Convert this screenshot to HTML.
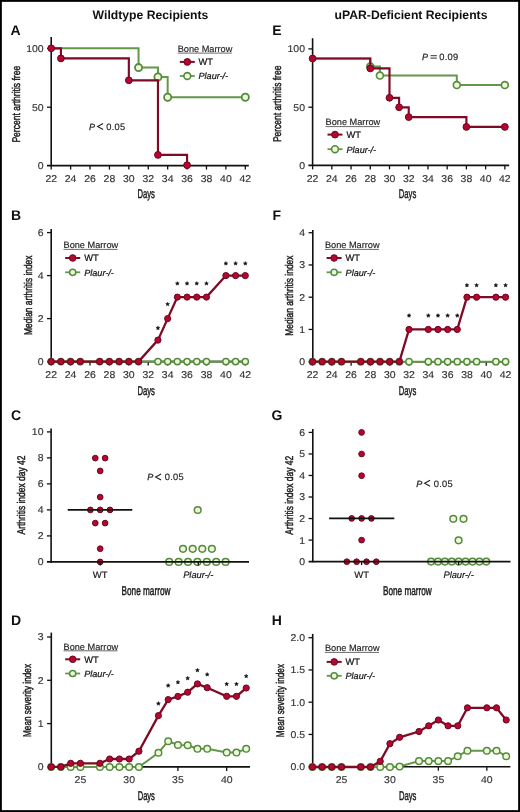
<!DOCTYPE html>
<html><head><meta charset="utf-8"><title>Figure</title>
<style>html,body{margin:0;padding:0;background:#fff;font-family:"Liberation Sans",sans-serif;}svg{display:block;will-change:transform;}</style>
</head><body>
<svg width="520" height="812" viewBox="0 0 520 812" font-family="&quot;Liberation Sans&quot;, sans-serif" text-rendering="geometricPrecision">
<rect x="0" y="0" width="520" height="812" fill="#fff"/>
<text x="92.6" y="18.9" font-size="12.2" font-weight="bold" fill="#111">Wildtype Recipients</text>
<text x="334.6" y="18.9" font-size="12.2" font-weight="bold" fill="#111">uPAR-Deficient Recipients</text>
<text x="10.4" y="34.8" font-size="14" font-weight="bold" fill="#111">A</text>
<text x="272.2" y="34.8" font-size="14" font-weight="bold" fill="#111">E</text>
<text x="11" y="220.4" font-size="14" font-weight="bold" fill="#111">B</text>
<text x="272.6" y="220.4" font-size="14" font-weight="bold" fill="#111">F</text>
<text x="11" y="419.6" font-size="14" font-weight="bold" fill="#111">C</text>
<text x="271.6" y="420" font-size="14" font-weight="bold" fill="#111">G</text>
<text x="11" y="624.9" font-size="14" font-weight="bold" fill="#111">D</text>
<text x="271.8" y="624.9" font-size="14" font-weight="bold" fill="#111">H</text>
<line x1="51.2" y1="36.9" x2="51.2" y2="166.35" stroke="#111" stroke-width="1.6" />
<line x1="47" y1="165.6" x2="248.8" y2="165.6" stroke="#111" stroke-width="1.6" />
<text transform="translate(43.6,169.06) scale(1.06,1)" font-size="9.9" text-anchor="end" fill="#333" stroke="#333" stroke-width="0.15">0</text>
<line x1="47" y1="107.2" x2="51.2" y2="107.2" stroke="#111" stroke-width="1.3" />
<text transform="translate(43.6,110.66) scale(1.06,1)" font-size="9.9" text-anchor="end" fill="#333" stroke="#333" stroke-width="0.15">50</text>
<line x1="47" y1="48.5" x2="51.2" y2="48.5" stroke="#111" stroke-width="1.3" />
<text transform="translate(43.6,51.96) scale(1.06,1)" font-size="9.9" text-anchor="end" fill="#333" stroke="#333" stroke-width="0.15">100</text>
<line x1="51.2" y1="165.6" x2="51.2" y2="169.6" stroke="#111" stroke-width="1.3" />
<text transform="translate(51.2,182) scale(1.06,1)" font-size="9.9" text-anchor="middle" fill="#333" stroke="#333" stroke-width="0.15">22</text>
<line x1="70.61" y1="165.6" x2="70.61" y2="169.6" stroke="#111" stroke-width="1.3" />
<text transform="translate(70.61,182) scale(1.06,1)" font-size="9.9" text-anchor="middle" fill="#333" stroke="#333" stroke-width="0.15">24</text>
<line x1="90.02" y1="165.6" x2="90.02" y2="169.6" stroke="#111" stroke-width="1.3" />
<text transform="translate(90.02,182) scale(1.06,1)" font-size="9.9" text-anchor="middle" fill="#333" stroke="#333" stroke-width="0.15">26</text>
<line x1="109.43" y1="165.6" x2="109.43" y2="169.6" stroke="#111" stroke-width="1.3" />
<text transform="translate(109.43,182) scale(1.06,1)" font-size="9.9" text-anchor="middle" fill="#333" stroke="#333" stroke-width="0.15">28</text>
<line x1="128.84" y1="165.6" x2="128.84" y2="169.6" stroke="#111" stroke-width="1.3" />
<text transform="translate(128.84,182) scale(1.06,1)" font-size="9.9" text-anchor="middle" fill="#333" stroke="#333" stroke-width="0.15">30</text>
<line x1="148.25" y1="165.6" x2="148.25" y2="169.6" stroke="#111" stroke-width="1.3" />
<text transform="translate(148.25,182) scale(1.06,1)" font-size="9.9" text-anchor="middle" fill="#333" stroke="#333" stroke-width="0.15">32</text>
<line x1="167.66" y1="165.6" x2="167.66" y2="169.6" stroke="#111" stroke-width="1.3" />
<text transform="translate(167.66,182) scale(1.06,1)" font-size="9.9" text-anchor="middle" fill="#333" stroke="#333" stroke-width="0.15">34</text>
<line x1="187.07" y1="165.6" x2="187.07" y2="169.6" stroke="#111" stroke-width="1.3" />
<text transform="translate(187.07,182) scale(1.06,1)" font-size="9.9" text-anchor="middle" fill="#333" stroke="#333" stroke-width="0.15">36</text>
<line x1="206.48" y1="165.6" x2="206.48" y2="169.6" stroke="#111" stroke-width="1.3" />
<text transform="translate(206.48,182) scale(1.06,1)" font-size="9.9" text-anchor="middle" fill="#333" stroke="#333" stroke-width="0.15">38</text>
<line x1="225.89" y1="165.6" x2="225.89" y2="169.6" stroke="#111" stroke-width="1.3" />
<text transform="translate(225.89,182) scale(1.06,1)" font-size="9.9" text-anchor="middle" fill="#333" stroke="#333" stroke-width="0.15">40</text>
<line x1="245.3" y1="165.6" x2="245.3" y2="169.6" stroke="#111" stroke-width="1.3" />
<text transform="translate(245.3,182) scale(1.06,1)" font-size="9.9" text-anchor="middle" fill="#333" stroke="#333" stroke-width="0.15">42</text>
<polyline points="51.2,48.3 138.55,48.3 138.55,67.6 157.96,67.6 157.96,77 167.66,77 167.66,97.2 245.3,97.2 245.3,97.2" fill="none" stroke="#62984a" stroke-width="2.0" stroke-linejoin="miter" stroke-linecap="butt"/>
<circle cx="138.55" cy="67.6" r="3.6" fill="#eef8d8" stroke="#548a3e" stroke-width="1.8"/>
<circle cx="157.96" cy="77" r="3.6" fill="#eef8d8" stroke="#548a3e" stroke-width="1.8"/>
<circle cx="167.66" cy="97.2" r="3.6" fill="#eef8d8" stroke="#548a3e" stroke-width="1.8"/>
<circle cx="245.3" cy="97.2" r="3.6" fill="#eef8d8" stroke="#548a3e" stroke-width="1.8"/>
<polyline points="51.2,48.3 60.91,48.3 60.91,58.4 128.84,58.4 128.84,80.3 157.96,80.3 157.96,154.9 187.07,154.9 187.07,165.2" fill="none" stroke="#7e0a25" stroke-width="2.15" stroke-linejoin="miter" stroke-linecap="butt"/>
<circle cx="51.2" cy="48.3" r="3.4" fill="#b2072f" stroke="#700520" stroke-width="1.0"/>
<circle cx="60.91" cy="58.4" r="3.4" fill="#b2072f" stroke="#700520" stroke-width="1.0"/>
<circle cx="128.84" cy="80.3" r="3.4" fill="#b2072f" stroke="#700520" stroke-width="1.0"/>
<circle cx="157.96" cy="154.9" r="3.4" fill="#b2072f" stroke="#700520" stroke-width="1.0"/>
<circle cx="187.07" cy="165.2" r="3.4" fill="#b2072f" stroke="#700520" stroke-width="1.0"/>
<text transform="translate(19.5,142.6) rotate(-90)" x="0" y="0" font-size="11.2" fill="#1a1a1a" stroke="#1a1a1a" stroke-width="0.45" textLength="76.8" lengthAdjust="spacingAndGlyphs">Percent arthritis free</text>
<text x="137.4" y="198.1" font-size="12.6" fill="#1a1a1a" stroke="#1a1a1a" stroke-width="0.45" textLength="17.5" lengthAdjust="spacingAndGlyphs">Days</text>
<text x="177.7" y="51.9" font-size="9.2" text-anchor="start" fill="#222" font-weight="normal" font-style="normal" stroke="#222" stroke-width="0.15">Bone Marrow</text>
<line x1="177.7" y1="53.1" x2="231.8" y2="53.1" stroke="#444" stroke-width="0.8" />
<line x1="179.8" y1="61.9" x2="194.8" y2="61.9" stroke="#7e0a25" stroke-width="2.0" />
<circle cx="187.3" cy="61.9" r="3.4" fill="#b2072f" stroke="#700520" stroke-width="1.0"/>
<text x="198.5" y="65.2" font-size="9.3" text-anchor="start" fill="#111" font-weight="normal" font-style="normal" stroke="#111" stroke-width="0.2">WT</text>
<line x1="179.8" y1="76" x2="194.8" y2="76" stroke="#62984a" stroke-width="1.8" />
<circle cx="187.3" cy="76" r="3.4" fill="#eef8d8" stroke="#548a3e" stroke-width="1.6"/>
<text x="198.5" y="79.3" font-size="9.1" text-anchor="start" fill="#111" font-weight="normal" font-style="italic" stroke="#111" stroke-width="0.2">Plaur-/-</text>
<text x="88.92" y="129.6" font-size="9" font-style="italic" fill="#222" stroke="#222" stroke-width="0.25">P</text>
<polyline points="103.1,123.4 97.6,126.4 103.1,129.4" fill="none" stroke="#222" stroke-width="1.1" stroke-linejoin="miter"/>
<text x="106.24" y="129.6" font-size="9.3" fill="#222" stroke="#222" stroke-width="0.15" letter-spacing="0.3">0.05</text>
<line x1="312.6" y1="38.2" x2="312.6" y2="166.15" stroke="#111" stroke-width="1.6" />
<line x1="308.4" y1="165.4" x2="509.2" y2="165.4" stroke="#111" stroke-width="1.6" />
<text transform="translate(305,168.86) scale(1.06,1)" font-size="9.9" text-anchor="end" fill="#333" stroke="#333" stroke-width="0.15">0</text>
<line x1="308.4" y1="107.2" x2="312.6" y2="107.2" stroke="#111" stroke-width="1.3" />
<text transform="translate(305,110.66) scale(1.06,1)" font-size="9.9" text-anchor="end" fill="#333" stroke="#333" stroke-width="0.15">50</text>
<line x1="308.4" y1="48.9" x2="312.6" y2="48.9" stroke="#111" stroke-width="1.3" />
<text transform="translate(305,52.36) scale(1.06,1)" font-size="9.9" text-anchor="end" fill="#333" stroke="#333" stroke-width="0.15">100</text>
<line x1="312.6" y1="165.4" x2="312.6" y2="169.4" stroke="#111" stroke-width="1.3" />
<text transform="translate(312.6,181.8) scale(1.06,1)" font-size="9.9" text-anchor="middle" fill="#333" stroke="#333" stroke-width="0.15">22</text>
<line x1="331.83" y1="165.4" x2="331.83" y2="169.4" stroke="#111" stroke-width="1.3" />
<text transform="translate(331.83,181.8) scale(1.06,1)" font-size="9.9" text-anchor="middle" fill="#333" stroke="#333" stroke-width="0.15">24</text>
<line x1="351.05" y1="165.4" x2="351.05" y2="169.4" stroke="#111" stroke-width="1.3" />
<text transform="translate(351.05,181.8) scale(1.06,1)" font-size="9.9" text-anchor="middle" fill="#333" stroke="#333" stroke-width="0.15">26</text>
<line x1="370.28" y1="165.4" x2="370.28" y2="169.4" stroke="#111" stroke-width="1.3" />
<text transform="translate(370.28,181.8) scale(1.06,1)" font-size="9.9" text-anchor="middle" fill="#333" stroke="#333" stroke-width="0.15">28</text>
<line x1="389.5" y1="165.4" x2="389.5" y2="169.4" stroke="#111" stroke-width="1.3" />
<text transform="translate(389.5,181.8) scale(1.06,1)" font-size="9.9" text-anchor="middle" fill="#333" stroke="#333" stroke-width="0.15">30</text>
<line x1="408.73" y1="165.4" x2="408.73" y2="169.4" stroke="#111" stroke-width="1.3" />
<text transform="translate(408.73,181.8) scale(1.06,1)" font-size="9.9" text-anchor="middle" fill="#333" stroke="#333" stroke-width="0.15">32</text>
<line x1="427.95" y1="165.4" x2="427.95" y2="169.4" stroke="#111" stroke-width="1.3" />
<text transform="translate(427.95,181.8) scale(1.06,1)" font-size="9.9" text-anchor="middle" fill="#333" stroke="#333" stroke-width="0.15">34</text>
<line x1="447.18" y1="165.4" x2="447.18" y2="169.4" stroke="#111" stroke-width="1.3" />
<text transform="translate(447.18,181.8) scale(1.06,1)" font-size="9.9" text-anchor="middle" fill="#333" stroke="#333" stroke-width="0.15">36</text>
<line x1="466.4" y1="165.4" x2="466.4" y2="169.4" stroke="#111" stroke-width="1.3" />
<text transform="translate(466.4,181.8) scale(1.06,1)" font-size="9.9" text-anchor="middle" fill="#333" stroke="#333" stroke-width="0.15">38</text>
<line x1="485.62" y1="165.4" x2="485.62" y2="169.4" stroke="#111" stroke-width="1.3" />
<text transform="translate(485.62,181.8) scale(1.06,1)" font-size="9.9" text-anchor="middle" fill="#333" stroke="#333" stroke-width="0.15">40</text>
<line x1="504.85" y1="165.4" x2="504.85" y2="169.4" stroke="#111" stroke-width="1.3" />
<text transform="translate(504.85,181.8) scale(1.06,1)" font-size="9.9" text-anchor="middle" fill="#333" stroke="#333" stroke-width="0.15">42</text>
<polyline points="312.6,58.5 370.28,58.5 370.28,66.6 379.89,66.6 379.89,75.6 456.79,75.6 456.79,85.1 504.85,85.1 504.85,85.1" fill="none" stroke="#62984a" stroke-width="2.0" stroke-linejoin="miter" stroke-linecap="butt"/>
<circle cx="370.28" cy="66.6" r="3.45" fill="#eef8d8" stroke="#548a3e" stroke-width="1.6"/>
<circle cx="379.89" cy="75.6" r="3.45" fill="#eef8d8" stroke="#548a3e" stroke-width="1.6"/>
<circle cx="456.79" cy="85.1" r="3.45" fill="#eef8d8" stroke="#548a3e" stroke-width="1.6"/>
<circle cx="504.85" cy="85.1" r="3.45" fill="#eef8d8" stroke="#548a3e" stroke-width="1.6"/>
<polyline points="312.6,58.5 370.28,58.5 370.28,68.4 389.5,68.4 389.5,97.8 399.11,97.8 399.11,107.3 408.73,107.3 408.73,117.1 466.4,117.1 466.4,126.9 504.85,126.9 504.85,126.9" fill="none" stroke="#7e0a25" stroke-width="2.15" stroke-linejoin="miter" stroke-linecap="butt"/>
<circle cx="312.6" cy="58.5" r="3.4" fill="#b2072f" stroke="#700520" stroke-width="1.0"/>
<circle cx="370.28" cy="68.4" r="3.4" fill="#b2072f" stroke="#700520" stroke-width="1.0"/>
<circle cx="389.5" cy="97.8" r="3.4" fill="#b2072f" stroke="#700520" stroke-width="1.0"/>
<circle cx="399.11" cy="107.3" r="3.4" fill="#b2072f" stroke="#700520" stroke-width="1.0"/>
<circle cx="408.73" cy="117.1" r="3.4" fill="#b2072f" stroke="#700520" stroke-width="1.0"/>
<circle cx="466.4" cy="126.9" r="3.4" fill="#b2072f" stroke="#700520" stroke-width="1.0"/>
<circle cx="504.85" cy="126.9" r="3.4" fill="#b2072f" stroke="#700520" stroke-width="1.0"/>
<text transform="translate(281.2,142.1) rotate(-90)" x="0" y="0" font-size="11.2" fill="#1a1a1a" stroke="#1a1a1a" stroke-width="0.45" textLength="76.5" lengthAdjust="spacingAndGlyphs">Percent arthritis free</text>
<text x="398.8" y="198.1" font-size="12.6" fill="#1a1a1a" stroke="#1a1a1a" stroke-width="0.45" textLength="17.5" lengthAdjust="spacingAndGlyphs">Days</text>
<text x="325.6" y="125.4" font-size="9.2" text-anchor="start" fill="#222" font-weight="normal" font-style="normal" stroke="#222" stroke-width="0.15">Bone Marrow</text>
<line x1="325.6" y1="126.6" x2="379.7" y2="126.6" stroke="#444" stroke-width="0.8" />
<line x1="327.5" y1="134.6" x2="342.5" y2="134.6" stroke="#7e0a25" stroke-width="2.0" />
<circle cx="335" cy="134.6" r="3.4" fill="#b2072f" stroke="#700520" stroke-width="1.0"/>
<text x="346.5" y="137.9" font-size="9.3" text-anchor="start" fill="#111" font-weight="normal" font-style="normal" stroke="#111" stroke-width="0.2">WT</text>
<line x1="327.5" y1="149.2" x2="342.5" y2="149.2" stroke="#62984a" stroke-width="1.8" />
<circle cx="335" cy="149.2" r="3.4" fill="#eef8d8" stroke="#548a3e" stroke-width="1.6"/>
<text x="346.5" y="152.5" font-size="9.1" text-anchor="start" fill="#111" font-weight="normal" font-style="italic" stroke="#111" stroke-width="0.2">Plaur-/-</text>
<text x="422.02" y="59.7" font-size="9" font-style="italic" fill="#222" stroke="#222" stroke-width="0.25">P</text>
<rect x="430.5" y="55.2" width="6.4" height="1.0" fill="#333"/>
<rect x="430.5" y="57.6" width="6.4" height="1.0" fill="#333"/>
<text x="439.24" y="59.7" font-size="9.3" fill="#222" stroke="#222" stroke-width="0.15" letter-spacing="0.3">0.09</text>
<line x1="51.2" y1="229.1" x2="51.2" y2="362.35" stroke="#111" stroke-width="1.6" />
<line x1="47" y1="361.6" x2="248.8" y2="361.6" stroke="#111" stroke-width="1.6" />
<text transform="translate(43.6,365.06) scale(1.06,1)" font-size="9.9" text-anchor="end" fill="#333" stroke="#333" stroke-width="0.15">0</text>
<line x1="47" y1="318.6" x2="51.2" y2="318.6" stroke="#111" stroke-width="1.3" />
<text transform="translate(43.6,322.06) scale(1.06,1)" font-size="9.9" text-anchor="end" fill="#333" stroke="#333" stroke-width="0.15">2</text>
<line x1="47" y1="275.6" x2="51.2" y2="275.6" stroke="#111" stroke-width="1.3" />
<text transform="translate(43.6,279.06) scale(1.06,1)" font-size="9.9" text-anchor="end" fill="#333" stroke="#333" stroke-width="0.15">4</text>
<line x1="47" y1="232.6" x2="51.2" y2="232.6" stroke="#111" stroke-width="1.3" />
<text transform="translate(43.6,236.06) scale(1.06,1)" font-size="9.9" text-anchor="end" fill="#333" stroke="#333" stroke-width="0.15">6</text>
<line x1="51.15" y1="361.6" x2="51.15" y2="365.6" stroke="#111" stroke-width="1.3" />
<text transform="translate(51.15,378) scale(1.06,1)" font-size="9.9" text-anchor="middle" fill="#333" stroke="#333" stroke-width="0.15">22</text>
<line x1="70.56" y1="361.6" x2="70.56" y2="365.6" stroke="#111" stroke-width="1.3" />
<text transform="translate(70.56,378) scale(1.06,1)" font-size="9.9" text-anchor="middle" fill="#333" stroke="#333" stroke-width="0.15">24</text>
<line x1="89.98" y1="361.6" x2="89.98" y2="365.6" stroke="#111" stroke-width="1.3" />
<text transform="translate(89.98,378) scale(1.06,1)" font-size="9.9" text-anchor="middle" fill="#333" stroke="#333" stroke-width="0.15">26</text>
<line x1="109.39" y1="361.6" x2="109.39" y2="365.6" stroke="#111" stroke-width="1.3" />
<text transform="translate(109.39,378) scale(1.06,1)" font-size="9.9" text-anchor="middle" fill="#333" stroke="#333" stroke-width="0.15">28</text>
<line x1="128.81" y1="361.6" x2="128.81" y2="365.6" stroke="#111" stroke-width="1.3" />
<text transform="translate(128.81,378) scale(1.06,1)" font-size="9.9" text-anchor="middle" fill="#333" stroke="#333" stroke-width="0.15">30</text>
<line x1="148.22" y1="361.6" x2="148.22" y2="365.6" stroke="#111" stroke-width="1.3" />
<text transform="translate(148.22,378) scale(1.06,1)" font-size="9.9" text-anchor="middle" fill="#333" stroke="#333" stroke-width="0.15">32</text>
<line x1="167.64" y1="361.6" x2="167.64" y2="365.6" stroke="#111" stroke-width="1.3" />
<text transform="translate(167.64,378) scale(1.06,1)" font-size="9.9" text-anchor="middle" fill="#333" stroke="#333" stroke-width="0.15">34</text>
<line x1="187.06" y1="361.6" x2="187.06" y2="365.6" stroke="#111" stroke-width="1.3" />
<text transform="translate(187.06,378) scale(1.06,1)" font-size="9.9" text-anchor="middle" fill="#333" stroke="#333" stroke-width="0.15">36</text>
<line x1="206.47" y1="361.6" x2="206.47" y2="365.6" stroke="#111" stroke-width="1.3" />
<text transform="translate(206.47,378) scale(1.06,1)" font-size="9.9" text-anchor="middle" fill="#333" stroke="#333" stroke-width="0.15">38</text>
<line x1="225.88" y1="361.6" x2="225.88" y2="365.6" stroke="#111" stroke-width="1.3" />
<text transform="translate(225.88,378) scale(1.06,1)" font-size="9.9" text-anchor="middle" fill="#333" stroke="#333" stroke-width="0.15">40</text>
<line x1="245.3" y1="361.6" x2="245.3" y2="365.6" stroke="#111" stroke-width="1.3" />
<text transform="translate(245.3,378) scale(1.06,1)" font-size="9.9" text-anchor="middle" fill="#333" stroke="#333" stroke-width="0.15">42</text>
<polyline points="51.15,361.6 60.86,361.6 70.56,361.6 80.27,361.6 99.69,361.6 109.39,361.6 119.1,361.6 128.81,361.6 138.52,361.6 157.93,361.6 167.64,361.6 177.35,361.6 187.06,361.6 196.76,361.6 206.47,361.6 225.88,361.6 235.59,361.6 245.3,361.6" fill="none" stroke="#62984a" stroke-width="2.0" stroke-linejoin="miter" stroke-linecap="butt"/>
<circle cx="51.15" cy="361.6" r="3.15" fill="#eef8d8" stroke="#548a3e" stroke-width="1.45"/>
<circle cx="60.86" cy="361.6" r="3.15" fill="#eef8d8" stroke="#548a3e" stroke-width="1.45"/>
<circle cx="70.56" cy="361.6" r="3.15" fill="#eef8d8" stroke="#548a3e" stroke-width="1.45"/>
<circle cx="80.27" cy="361.6" r="3.15" fill="#eef8d8" stroke="#548a3e" stroke-width="1.45"/>
<circle cx="99.69" cy="361.6" r="3.15" fill="#eef8d8" stroke="#548a3e" stroke-width="1.45"/>
<circle cx="109.39" cy="361.6" r="3.15" fill="#eef8d8" stroke="#548a3e" stroke-width="1.45"/>
<circle cx="119.1" cy="361.6" r="3.15" fill="#eef8d8" stroke="#548a3e" stroke-width="1.45"/>
<circle cx="128.81" cy="361.6" r="3.15" fill="#eef8d8" stroke="#548a3e" stroke-width="1.45"/>
<circle cx="138.52" cy="361.6" r="3.15" fill="#eef8d8" stroke="#548a3e" stroke-width="1.45"/>
<circle cx="157.93" cy="361.6" r="3.15" fill="#eef8d8" stroke="#548a3e" stroke-width="1.45"/>
<circle cx="167.64" cy="361.6" r="3.15" fill="#eef8d8" stroke="#548a3e" stroke-width="1.45"/>
<circle cx="177.35" cy="361.6" r="3.15" fill="#eef8d8" stroke="#548a3e" stroke-width="1.45"/>
<circle cx="187.06" cy="361.6" r="3.15" fill="#eef8d8" stroke="#548a3e" stroke-width="1.45"/>
<circle cx="196.76" cy="361.6" r="3.15" fill="#eef8d8" stroke="#548a3e" stroke-width="1.45"/>
<circle cx="206.47" cy="361.6" r="3.15" fill="#eef8d8" stroke="#548a3e" stroke-width="1.45"/>
<circle cx="225.88" cy="361.6" r="3.15" fill="#eef8d8" stroke="#548a3e" stroke-width="1.45"/>
<circle cx="235.59" cy="361.6" r="3.15" fill="#eef8d8" stroke="#548a3e" stroke-width="1.45"/>
<circle cx="245.3" cy="361.6" r="3.15" fill="#eef8d8" stroke="#548a3e" stroke-width="1.45"/>
<polyline points="51.15,361.6 60.86,361.6 70.56,361.6 80.27,361.6 99.69,361.6 109.39,361.6 119.1,361.6 128.81,361.6 138.52,361.6 157.93,340.1 167.64,318.6 177.35,297.1 187.06,297.1 196.76,297.1 206.47,297.1 225.88,275.6 235.59,275.6 245.3,275.6" fill="none" stroke="#7e0a25" stroke-width="2.3" stroke-linejoin="miter" stroke-linecap="butt"/>
<circle cx="51.15" cy="361.6" r="3.1" fill="#b2072f" stroke="#700520" stroke-width="1.0"/>
<circle cx="60.86" cy="361.6" r="3.1" fill="#b2072f" stroke="#700520" stroke-width="1.0"/>
<circle cx="70.56" cy="361.6" r="3.1" fill="#b2072f" stroke="#700520" stroke-width="1.0"/>
<circle cx="80.27" cy="361.6" r="3.1" fill="#b2072f" stroke="#700520" stroke-width="1.0"/>
<circle cx="99.69" cy="361.6" r="3.1" fill="#b2072f" stroke="#700520" stroke-width="1.0"/>
<circle cx="109.39" cy="361.6" r="3.1" fill="#b2072f" stroke="#700520" stroke-width="1.0"/>
<circle cx="119.1" cy="361.6" r="3.1" fill="#b2072f" stroke="#700520" stroke-width="1.0"/>
<circle cx="128.81" cy="361.6" r="3.1" fill="#b2072f" stroke="#700520" stroke-width="1.0"/>
<circle cx="138.52" cy="361.6" r="3.1" fill="#b2072f" stroke="#700520" stroke-width="1.0"/>
<circle cx="157.93" cy="340.1" r="3.1" fill="#b2072f" stroke="#700520" stroke-width="1.0"/>
<circle cx="167.64" cy="318.6" r="3.1" fill="#b2072f" stroke="#700520" stroke-width="1.0"/>
<circle cx="177.35" cy="297.1" r="3.1" fill="#b2072f" stroke="#700520" stroke-width="1.0"/>
<circle cx="187.06" cy="297.1" r="3.1" fill="#b2072f" stroke="#700520" stroke-width="1.0"/>
<circle cx="196.76" cy="297.1" r="3.1" fill="#b2072f" stroke="#700520" stroke-width="1.0"/>
<circle cx="206.47" cy="297.1" r="3.1" fill="#b2072f" stroke="#700520" stroke-width="1.0"/>
<circle cx="225.88" cy="275.6" r="3.1" fill="#b2072f" stroke="#700520" stroke-width="1.0"/>
<circle cx="235.59" cy="275.6" r="3.1" fill="#b2072f" stroke="#700520" stroke-width="1.0"/>
<circle cx="245.3" cy="275.6" r="3.1" fill="#b2072f" stroke="#700520" stroke-width="1.0"/>
<polygon points="157.93,326.1 158.46,327.37 159.83,327.48 158.79,328.38 159.11,329.72 157.93,329 156.76,329.72 157.08,328.38 156.03,327.48 157.4,327.37" fill="#111" stroke="#111" stroke-width="0.5" stroke-linejoin="round"/>
<polygon points="167.64,302.2 168.17,303.47 169.54,303.58 168.5,304.48 168.82,305.82 167.64,305.1 166.46,305.82 166.78,304.48 165.74,303.58 167.11,303.47" fill="#111" stroke="#111" stroke-width="0.5" stroke-linejoin="round"/>
<polygon points="177.35,281.5 177.88,282.77 179.25,282.88 178.2,283.78 178.52,285.12 177.35,284.4 176.17,285.12 176.49,283.78 175.45,282.88 176.82,282.77" fill="#111" stroke="#111" stroke-width="0.5" stroke-linejoin="round"/>
<polygon points="187.06,281.5 187.58,282.77 188.96,282.88 187.91,283.78 188.23,285.12 187.06,284.4 185.88,285.12 186.2,283.78 185.15,282.88 186.53,282.77" fill="#111" stroke="#111" stroke-width="0.5" stroke-linejoin="round"/>
<polygon points="196.76,281.5 197.29,282.77 198.66,282.88 197.62,283.78 197.94,285.12 196.76,284.4 195.59,285.12 195.91,283.78 194.86,282.88 196.23,282.77" fill="#111" stroke="#111" stroke-width="0.5" stroke-linejoin="round"/>
<polygon points="206.47,281.5 207,282.77 208.37,282.88 207.33,283.78 207.65,285.12 206.47,284.4 205.29,285.12 205.61,283.78 204.57,282.88 205.94,282.77" fill="#111" stroke="#111" stroke-width="0.5" stroke-linejoin="round"/>
<polygon points="225.88,261.5 226.41,262.77 227.79,262.88 226.74,263.78 227.06,265.12 225.88,264.4 224.71,265.12 225.03,263.78 223.98,262.88 225.36,262.77" fill="#111" stroke="#111" stroke-width="0.5" stroke-linejoin="round"/>
<polygon points="235.59,261.5 236.12,262.77 237.49,262.88 236.45,263.78 236.77,265.12 235.59,264.4 234.42,265.12 234.74,263.78 233.69,262.88 235.06,262.77" fill="#111" stroke="#111" stroke-width="0.5" stroke-linejoin="round"/>
<polygon points="245.3,261.5 245.83,262.77 247.2,262.88 246.16,263.78 246.48,265.12 245.3,264.4 244.12,265.12 244.44,263.78 243.4,262.88 244.77,262.77" fill="#111" stroke="#111" stroke-width="0.5" stroke-linejoin="round"/>
<text transform="translate(31.7,334.9) rotate(-90)" x="0" y="0" font-size="11.2" fill="#1a1a1a" stroke="#1a1a1a" stroke-width="0.45" textLength="79.3" lengthAdjust="spacingAndGlyphs">Median arthritis index</text>
<text x="137.4" y="395" font-size="12.6" fill="#1a1a1a" stroke="#1a1a1a" stroke-width="0.45" textLength="17.5" lengthAdjust="spacingAndGlyphs">Days</text>
<text x="63.5" y="248.2" font-size="9.2" text-anchor="start" fill="#222" font-weight="normal" font-style="normal" stroke="#222" stroke-width="0.15">Bone Marrow</text>
<line x1="63.5" y1="249.4" x2="117.6" y2="249.4" stroke="#444" stroke-width="0.8" />
<line x1="65.2" y1="258" x2="80.2" y2="258" stroke="#7e0a25" stroke-width="2.0" />
<circle cx="72.7" cy="258" r="3.3" fill="#b2072f" stroke="#700520" stroke-width="1.0"/>
<text x="84.2" y="261.3" font-size="9.3" text-anchor="start" fill="#111" font-weight="normal" font-style="normal" stroke="#111" stroke-width="0.2">WT</text>
<line x1="65.2" y1="272.3" x2="80.2" y2="272.3" stroke="#62984a" stroke-width="1.8" />
<circle cx="72.7" cy="272.3" r="3.1" fill="#eef8d8" stroke="#548a3e" stroke-width="1.5"/>
<text x="84.2" y="275.6" font-size="9.1" text-anchor="start" fill="#111" font-weight="normal" font-style="italic" stroke="#111" stroke-width="0.2">Plaur-/-</text>
<line x1="312.8" y1="229.9" x2="312.8" y2="362.45" stroke="#111" stroke-width="1.6" />
<line x1="308.6" y1="361.7" x2="509.2" y2="361.7" stroke="#111" stroke-width="1.6" />
<text transform="translate(305.2,365.16) scale(1.06,1)" font-size="9.9" text-anchor="end" fill="#333" stroke="#333" stroke-width="0.15">0</text>
<line x1="308.6" y1="329.45" x2="312.8" y2="329.45" stroke="#111" stroke-width="1.3" />
<text transform="translate(305.2,332.91) scale(1.06,1)" font-size="9.9" text-anchor="end" fill="#333" stroke="#333" stroke-width="0.15">1</text>
<line x1="308.6" y1="297.2" x2="312.8" y2="297.2" stroke="#111" stroke-width="1.3" />
<text transform="translate(305.2,300.66) scale(1.06,1)" font-size="9.9" text-anchor="end" fill="#333" stroke="#333" stroke-width="0.15">2</text>
<line x1="308.6" y1="264.95" x2="312.8" y2="264.95" stroke="#111" stroke-width="1.3" />
<text transform="translate(305.2,268.41) scale(1.06,1)" font-size="9.9" text-anchor="end" fill="#333" stroke="#333" stroke-width="0.15">3</text>
<line x1="308.6" y1="232.7" x2="312.8" y2="232.7" stroke="#111" stroke-width="1.3" />
<text transform="translate(305.2,236.16) scale(1.06,1)" font-size="9.9" text-anchor="end" fill="#333" stroke="#333" stroke-width="0.15">4</text>
<line x1="312.5" y1="361.7" x2="312.5" y2="365.7" stroke="#111" stroke-width="1.3" />
<text transform="translate(312.5,378.1) scale(1.06,1)" font-size="9.9" text-anchor="middle" fill="#333" stroke="#333" stroke-width="0.15">22</text>
<line x1="331.81" y1="361.7" x2="331.81" y2="365.7" stroke="#111" stroke-width="1.3" />
<text transform="translate(331.81,378.1) scale(1.06,1)" font-size="9.9" text-anchor="middle" fill="#333" stroke="#333" stroke-width="0.15">24</text>
<line x1="351.11" y1="361.7" x2="351.11" y2="365.7" stroke="#111" stroke-width="1.3" />
<text transform="translate(351.11,378.1) scale(1.06,1)" font-size="9.9" text-anchor="middle" fill="#333" stroke="#333" stroke-width="0.15">26</text>
<line x1="370.42" y1="361.7" x2="370.42" y2="365.7" stroke="#111" stroke-width="1.3" />
<text transform="translate(370.42,378.1) scale(1.06,1)" font-size="9.9" text-anchor="middle" fill="#333" stroke="#333" stroke-width="0.15">28</text>
<line x1="389.72" y1="361.7" x2="389.72" y2="365.7" stroke="#111" stroke-width="1.3" />
<text transform="translate(389.72,378.1) scale(1.06,1)" font-size="9.9" text-anchor="middle" fill="#333" stroke="#333" stroke-width="0.15">30</text>
<line x1="409.02" y1="361.7" x2="409.02" y2="365.7" stroke="#111" stroke-width="1.3" />
<text transform="translate(409.02,378.1) scale(1.06,1)" font-size="9.9" text-anchor="middle" fill="#333" stroke="#333" stroke-width="0.15">32</text>
<line x1="428.33" y1="361.7" x2="428.33" y2="365.7" stroke="#111" stroke-width="1.3" />
<text transform="translate(428.33,378.1) scale(1.06,1)" font-size="9.9" text-anchor="middle" fill="#333" stroke="#333" stroke-width="0.15">34</text>
<line x1="447.63" y1="361.7" x2="447.63" y2="365.7" stroke="#111" stroke-width="1.3" />
<text transform="translate(447.63,378.1) scale(1.06,1)" font-size="9.9" text-anchor="middle" fill="#333" stroke="#333" stroke-width="0.15">36</text>
<line x1="466.94" y1="361.7" x2="466.94" y2="365.7" stroke="#111" stroke-width="1.3" />
<text transform="translate(466.94,378.1) scale(1.06,1)" font-size="9.9" text-anchor="middle" fill="#333" stroke="#333" stroke-width="0.15">38</text>
<line x1="486.25" y1="361.7" x2="486.25" y2="365.7" stroke="#111" stroke-width="1.3" />
<text transform="translate(486.25,378.1) scale(1.06,1)" font-size="9.9" text-anchor="middle" fill="#333" stroke="#333" stroke-width="0.15">40</text>
<line x1="505.55" y1="361.7" x2="505.55" y2="365.7" stroke="#111" stroke-width="1.3" />
<text transform="translate(505.55,378.1) scale(1.06,1)" font-size="9.9" text-anchor="middle" fill="#333" stroke="#333" stroke-width="0.15">42</text>
<polyline points="312.5,361.7 322.15,361.7 331.81,361.7 341.46,361.7 360.76,361.7 370.42,361.7 380.07,361.7 389.72,361.7 399.37,361.7 409.02,361.7 428.33,361.7 437.98,361.7 447.63,361.7 457.29,361.7 466.94,361.7 476.59,361.7 495.9,361.7 505.55,361.7" fill="none" stroke="#62984a" stroke-width="2.0" stroke-linejoin="miter" stroke-linecap="butt"/>
<circle cx="312.5" cy="361.7" r="3.15" fill="#eef8d8" stroke="#548a3e" stroke-width="1.45"/>
<circle cx="322.15" cy="361.7" r="3.15" fill="#eef8d8" stroke="#548a3e" stroke-width="1.45"/>
<circle cx="331.81" cy="361.7" r="3.15" fill="#eef8d8" stroke="#548a3e" stroke-width="1.45"/>
<circle cx="341.46" cy="361.7" r="3.15" fill="#eef8d8" stroke="#548a3e" stroke-width="1.45"/>
<circle cx="360.76" cy="361.7" r="3.15" fill="#eef8d8" stroke="#548a3e" stroke-width="1.45"/>
<circle cx="370.42" cy="361.7" r="3.15" fill="#eef8d8" stroke="#548a3e" stroke-width="1.45"/>
<circle cx="380.07" cy="361.7" r="3.15" fill="#eef8d8" stroke="#548a3e" stroke-width="1.45"/>
<circle cx="389.72" cy="361.7" r="3.15" fill="#eef8d8" stroke="#548a3e" stroke-width="1.45"/>
<circle cx="399.37" cy="361.7" r="3.15" fill="#eef8d8" stroke="#548a3e" stroke-width="1.45"/>
<circle cx="409.02" cy="361.7" r="3.15" fill="#eef8d8" stroke="#548a3e" stroke-width="1.45"/>
<circle cx="428.33" cy="361.7" r="3.15" fill="#eef8d8" stroke="#548a3e" stroke-width="1.45"/>
<circle cx="437.98" cy="361.7" r="3.15" fill="#eef8d8" stroke="#548a3e" stroke-width="1.45"/>
<circle cx="447.63" cy="361.7" r="3.15" fill="#eef8d8" stroke="#548a3e" stroke-width="1.45"/>
<circle cx="457.29" cy="361.7" r="3.15" fill="#eef8d8" stroke="#548a3e" stroke-width="1.45"/>
<circle cx="466.94" cy="361.7" r="3.15" fill="#eef8d8" stroke="#548a3e" stroke-width="1.45"/>
<circle cx="476.59" cy="361.7" r="3.15" fill="#eef8d8" stroke="#548a3e" stroke-width="1.45"/>
<circle cx="495.9" cy="361.7" r="3.15" fill="#eef8d8" stroke="#548a3e" stroke-width="1.45"/>
<circle cx="505.55" cy="361.7" r="3.15" fill="#eef8d8" stroke="#548a3e" stroke-width="1.45"/>
<polyline points="312.5,361.7 322.15,361.7 331.81,361.7 341.46,361.7 360.76,361.7 370.42,361.7 380.07,361.7 389.72,361.7 399.37,361.7 409.02,329.45 428.33,329.45 437.98,329.45 447.63,329.45 457.29,329.45 466.94,297.2 476.59,297.2 495.9,297.2 505.55,297.2" fill="none" stroke="#7e0a25" stroke-width="2.3" stroke-linejoin="miter" stroke-linecap="butt"/>
<circle cx="312.5" cy="361.7" r="3.1" fill="#b2072f" stroke="#700520" stroke-width="1.0"/>
<circle cx="322.15" cy="361.7" r="3.1" fill="#b2072f" stroke="#700520" stroke-width="1.0"/>
<circle cx="331.81" cy="361.7" r="3.1" fill="#b2072f" stroke="#700520" stroke-width="1.0"/>
<circle cx="341.46" cy="361.7" r="3.1" fill="#b2072f" stroke="#700520" stroke-width="1.0"/>
<circle cx="360.76" cy="361.7" r="3.1" fill="#b2072f" stroke="#700520" stroke-width="1.0"/>
<circle cx="370.42" cy="361.7" r="3.1" fill="#b2072f" stroke="#700520" stroke-width="1.0"/>
<circle cx="380.07" cy="361.7" r="3.1" fill="#b2072f" stroke="#700520" stroke-width="1.0"/>
<circle cx="389.72" cy="361.7" r="3.1" fill="#b2072f" stroke="#700520" stroke-width="1.0"/>
<circle cx="399.37" cy="361.7" r="3.1" fill="#b2072f" stroke="#700520" stroke-width="1.0"/>
<circle cx="409.02" cy="329.45" r="3.1" fill="#b2072f" stroke="#700520" stroke-width="1.0"/>
<circle cx="428.33" cy="329.45" r="3.1" fill="#b2072f" stroke="#700520" stroke-width="1.0"/>
<circle cx="437.98" cy="329.45" r="3.1" fill="#b2072f" stroke="#700520" stroke-width="1.0"/>
<circle cx="447.63" cy="329.45" r="3.1" fill="#b2072f" stroke="#700520" stroke-width="1.0"/>
<circle cx="457.29" cy="329.45" r="3.1" fill="#b2072f" stroke="#700520" stroke-width="1.0"/>
<circle cx="466.94" cy="297.2" r="3.1" fill="#b2072f" stroke="#700520" stroke-width="1.0"/>
<circle cx="476.59" cy="297.2" r="3.1" fill="#b2072f" stroke="#700520" stroke-width="1.0"/>
<circle cx="495.9" cy="297.2" r="3.1" fill="#b2072f" stroke="#700520" stroke-width="1.0"/>
<circle cx="505.55" cy="297.2" r="3.1" fill="#b2072f" stroke="#700520" stroke-width="1.0"/>
<polygon points="409.02,313.6 409.55,314.87 410.93,314.98 409.88,315.88 410.2,317.22 409.02,316.5 407.85,317.22 408.17,315.88 407.12,314.98 408.5,314.87" fill="#111" stroke="#111" stroke-width="0.5" stroke-linejoin="round"/>
<polygon points="428.33,313.6 428.86,314.87 430.23,314.98 429.19,315.88 429.51,317.22 428.33,316.5 427.15,317.22 427.47,315.88 426.43,314.98 427.8,314.87" fill="#111" stroke="#111" stroke-width="0.5" stroke-linejoin="round"/>
<polygon points="437.98,313.6 438.51,314.87 439.88,314.98 438.84,315.88 439.16,317.22 437.98,316.5 436.81,317.22 437.13,315.88 436.08,314.98 437.45,314.87" fill="#111" stroke="#111" stroke-width="0.5" stroke-linejoin="round"/>
<polygon points="447.63,313.6 448.16,314.87 449.54,314.98 448.49,315.88 448.81,317.22 447.63,316.5 446.46,317.22 446.78,315.88 445.73,314.98 447.11,314.87" fill="#111" stroke="#111" stroke-width="0.5" stroke-linejoin="round"/>
<polygon points="457.29,313.6 457.82,314.87 459.19,314.98 458.14,315.88 458.46,317.22 457.29,316.5 456.11,317.22 456.43,315.88 455.39,314.98 456.76,314.87" fill="#111" stroke="#111" stroke-width="0.5" stroke-linejoin="round"/>
<polygon points="466.94,283.3 467.47,284.57 468.84,284.68 467.8,285.58 468.12,286.92 466.94,286.2 465.76,286.92 466.08,285.58 465.04,284.68 466.41,284.57" fill="#111" stroke="#111" stroke-width="0.5" stroke-linejoin="round"/>
<polygon points="476.59,283.3 477.12,284.57 478.49,284.68 477.45,285.58 477.77,286.92 476.59,286.2 475.42,286.92 475.74,285.58 474.69,284.68 476.06,284.57" fill="#111" stroke="#111" stroke-width="0.5" stroke-linejoin="round"/>
<polygon points="495.9,283.3 496.43,284.57 497.8,284.68 496.75,285.58 497.07,286.92 495.9,286.2 494.72,286.92 495.04,285.58 494,284.68 495.37,284.57" fill="#111" stroke="#111" stroke-width="0.5" stroke-linejoin="round"/>
<polygon points="505.55,283.3 506.08,284.57 507.45,284.68 506.41,285.58 506.73,286.92 505.55,286.2 504.37,286.92 504.69,285.58 503.65,284.68 505.02,284.57" fill="#111" stroke="#111" stroke-width="0.5" stroke-linejoin="round"/>
<text transform="translate(292.7,335.7) rotate(-90)" x="0" y="0" font-size="11.2" fill="#1a1a1a" stroke="#1a1a1a" stroke-width="0.45" textLength="80.2" lengthAdjust="spacingAndGlyphs">Median arthritis index</text>
<text x="398.8" y="395" font-size="12.6" fill="#1a1a1a" stroke="#1a1a1a" stroke-width="0.45" textLength="17.5" lengthAdjust="spacingAndGlyphs">Days</text>
<text x="324.9" y="248.2" font-size="9.2" text-anchor="start" fill="#222" font-weight="normal" font-style="normal" stroke="#222" stroke-width="0.15">Bone Marrow</text>
<line x1="324.9" y1="249.4" x2="379" y2="249.4" stroke="#444" stroke-width="0.8" />
<line x1="326.6" y1="258" x2="341.6" y2="258" stroke="#7e0a25" stroke-width="2.0" />
<circle cx="334.1" cy="258" r="3.3" fill="#b2072f" stroke="#700520" stroke-width="1.0"/>
<text x="345.6" y="261.3" font-size="9.3" text-anchor="start" fill="#111" font-weight="normal" font-style="normal" stroke="#111" stroke-width="0.2">WT</text>
<line x1="326.6" y1="272.3" x2="341.6" y2="272.3" stroke="#62984a" stroke-width="1.8" />
<circle cx="334.1" cy="272.3" r="3.1" fill="#eef8d8" stroke="#548a3e" stroke-width="1.5"/>
<text x="345.6" y="275.6" font-size="9.1" text-anchor="start" fill="#111" font-weight="normal" font-style="italic" stroke="#111" stroke-width="0.2">Plaur-/-</text>
<circle cx="95.3" cy="458.1" r="2.85" fill="#b2072f" stroke="#700520" stroke-width="1.0"/>
<circle cx="105.1" cy="458.1" r="2.85" fill="#b2072f" stroke="#700520" stroke-width="1.0"/>
<circle cx="100.2" cy="470.9" r="2.85" fill="#b2072f" stroke="#700520" stroke-width="1.0"/>
<circle cx="100.2" cy="497.1" r="2.85" fill="#b2072f" stroke="#700520" stroke-width="1.0"/>
<circle cx="90.4" cy="509.9" r="2.85" fill="#b2072f" stroke="#700520" stroke-width="1.0"/>
<circle cx="100.2" cy="509.9" r="2.85" fill="#b2072f" stroke="#700520" stroke-width="1.0"/>
<circle cx="110" cy="509.9" r="2.85" fill="#b2072f" stroke="#700520" stroke-width="1.0"/>
<circle cx="95.3" cy="523.1" r="2.85" fill="#b2072f" stroke="#700520" stroke-width="1.0"/>
<circle cx="105.1" cy="523.1" r="2.85" fill="#b2072f" stroke="#700520" stroke-width="1.0"/>
<circle cx="100.2" cy="548.7" r="2.85" fill="#b2072f" stroke="#700520" stroke-width="1.0"/>
<circle cx="100.2" cy="561.9" r="2.85" fill="#b2072f" stroke="#700520" stroke-width="1.0"/>
<circle cx="197.7" cy="510" r="3.35" fill="#eef8d8" stroke="#548a3e" stroke-width="1.5"/>
<circle cx="183" cy="548.8" r="3.35" fill="#eef8d8" stroke="#548a3e" stroke-width="1.5"/>
<circle cx="192.7" cy="548.8" r="3.35" fill="#eef8d8" stroke="#548a3e" stroke-width="1.5"/>
<circle cx="202.3" cy="548.8" r="3.35" fill="#eef8d8" stroke="#548a3e" stroke-width="1.5"/>
<circle cx="211.9" cy="548.8" r="3.35" fill="#eef8d8" stroke="#548a3e" stroke-width="1.5"/>
<circle cx="169.2" cy="561.9" r="3.35" fill="#eef8d8" stroke="#548a3e" stroke-width="1.5"/>
<circle cx="178.6" cy="561.9" r="3.35" fill="#eef8d8" stroke="#548a3e" stroke-width="1.5"/>
<circle cx="188" cy="561.9" r="3.35" fill="#eef8d8" stroke="#548a3e" stroke-width="1.5"/>
<circle cx="197.4" cy="561.9" r="3.35" fill="#eef8d8" stroke="#548a3e" stroke-width="1.5"/>
<circle cx="206.8" cy="561.9" r="3.35" fill="#eef8d8" stroke="#548a3e" stroke-width="1.5"/>
<circle cx="216.2" cy="561.9" r="3.35" fill="#eef8d8" stroke="#548a3e" stroke-width="1.5"/>
<circle cx="225.6" cy="561.9" r="3.35" fill="#eef8d8" stroke="#548a3e" stroke-width="1.5"/>
<line x1="51.1" y1="428.6" x2="51.1" y2="562.65" stroke="#111" stroke-width="1.6" />
<line x1="46.9" y1="561.9" x2="249" y2="561.9" stroke="#111" stroke-width="1.6" />
<text transform="translate(43.5,565.36) scale(1.06,1)" font-size="9.9" text-anchor="end" fill="#333" stroke="#333" stroke-width="0.15">0</text>
<line x1="46.9" y1="535.9" x2="51.1" y2="535.9" stroke="#111" stroke-width="1.3" />
<text transform="translate(43.5,539.36) scale(1.06,1)" font-size="9.9" text-anchor="end" fill="#333" stroke="#333" stroke-width="0.15">2</text>
<line x1="46.9" y1="509.9" x2="51.1" y2="509.9" stroke="#111" stroke-width="1.3" />
<text transform="translate(43.5,513.36) scale(1.06,1)" font-size="9.9" text-anchor="end" fill="#333" stroke="#333" stroke-width="0.15">4</text>
<line x1="46.9" y1="483.9" x2="51.1" y2="483.9" stroke="#111" stroke-width="1.3" />
<text transform="translate(43.5,487.36) scale(1.06,1)" font-size="9.9" text-anchor="end" fill="#333" stroke="#333" stroke-width="0.15">6</text>
<line x1="46.9" y1="457.9" x2="51.1" y2="457.9" stroke="#111" stroke-width="1.3" />
<text transform="translate(43.5,461.36) scale(1.06,1)" font-size="9.9" text-anchor="end" fill="#333" stroke="#333" stroke-width="0.15">8</text>
<line x1="46.9" y1="431.9" x2="51.1" y2="431.9" stroke="#111" stroke-width="1.3" />
<text transform="translate(43.5,435.36) scale(1.06,1)" font-size="9.9" text-anchor="end" fill="#333" stroke="#333" stroke-width="0.15">10</text>
<line x1="100.2" y1="561.9" x2="100.2" y2="565.4" stroke="#111" stroke-width="1.3" />
<line x1="198.3" y1="561.9" x2="198.3" y2="565.4" stroke="#111" stroke-width="1.3" />
<text x="100.2" y="578.3" font-size="9.5" text-anchor="middle" fill="#111" font-weight="normal" font-style="normal" stroke="#111" stroke-width="0.15">WT</text>
<text x="198.3" y="578.3" font-size="9.3" text-anchor="middle" fill="#111" font-weight="normal" font-style="italic" stroke="#111" stroke-width="0.15">Plaur-/-</text>
<line x1="67.7" y1="509.9" x2="132.3" y2="509.9" stroke="#111" stroke-width="1.9" />
<text transform="translate(24.9,534.5) rotate(-90)" x="0" y="0" font-size="11.2" fill="#1a1a1a" stroke="#1a1a1a" stroke-width="0.45" textLength="78.9" lengthAdjust="spacingAndGlyphs">Arthritis index day 42</text>
<text x="121.5" y="594.9" font-size="12.6" fill="#1a1a1a" stroke="#1a1a1a" stroke-width="0.45" textLength="48.9" lengthAdjust="spacingAndGlyphs">Bone marrow</text>
<text x="147.22" y="480.3" font-size="9" font-style="italic" fill="#222" stroke="#222" stroke-width="0.25">P</text>
<polyline points="161.1,474.1 155.6,477.1 161.1,480.1" fill="none" stroke="#222" stroke-width="1.1" stroke-linejoin="miter"/>
<text x="164.74" y="480.3" font-size="9.3" fill="#222" stroke="#222" stroke-width="0.15" letter-spacing="0.3">0.05</text>
<circle cx="361.6" cy="432.4" r="2.85" fill="#b2072f" stroke="#700520" stroke-width="1.0"/>
<circle cx="361.6" cy="454" r="2.85" fill="#b2072f" stroke="#700520" stroke-width="1.0"/>
<circle cx="361.6" cy="475.7" r="2.85" fill="#b2072f" stroke="#700520" stroke-width="1.0"/>
<circle cx="351.7" cy="518.4" r="2.85" fill="#b2072f" stroke="#700520" stroke-width="1.0"/>
<circle cx="361.6" cy="518.4" r="2.85" fill="#b2072f" stroke="#700520" stroke-width="1.0"/>
<circle cx="371.4" cy="518.4" r="2.85" fill="#b2072f" stroke="#700520" stroke-width="1.0"/>
<circle cx="361.6" cy="540.1" r="2.85" fill="#b2072f" stroke="#700520" stroke-width="1.0"/>
<circle cx="346.8" cy="561.7" r="2.85" fill="#b2072f" stroke="#700520" stroke-width="1.0"/>
<circle cx="356.6" cy="561.7" r="2.85" fill="#b2072f" stroke="#700520" stroke-width="1.0"/>
<circle cx="366.5" cy="561.7" r="2.85" fill="#b2072f" stroke="#700520" stroke-width="1.0"/>
<circle cx="376.3" cy="561.7" r="2.85" fill="#b2072f" stroke="#700520" stroke-width="1.0"/>
<circle cx="453.3" cy="518.8" r="3.35" fill="#eef8d8" stroke="#548a3e" stroke-width="1.5"/>
<circle cx="463.5" cy="518.8" r="3.35" fill="#eef8d8" stroke="#548a3e" stroke-width="1.5"/>
<circle cx="458.6" cy="540.3" r="3.35" fill="#eef8d8" stroke="#548a3e" stroke-width="1.5"/>
<circle cx="431.1" cy="561.6" r="3.35" fill="#eef8d8" stroke="#548a3e" stroke-width="1.5"/>
<circle cx="438" cy="561.6" r="3.35" fill="#eef8d8" stroke="#548a3e" stroke-width="1.5"/>
<circle cx="444.9" cy="561.6" r="3.35" fill="#eef8d8" stroke="#548a3e" stroke-width="1.5"/>
<circle cx="451.8" cy="561.6" r="3.35" fill="#eef8d8" stroke="#548a3e" stroke-width="1.5"/>
<circle cx="458.7" cy="561.6" r="3.35" fill="#eef8d8" stroke="#548a3e" stroke-width="1.5"/>
<circle cx="465.6" cy="561.6" r="3.35" fill="#eef8d8" stroke="#548a3e" stroke-width="1.5"/>
<circle cx="472.5" cy="561.6" r="3.35" fill="#eef8d8" stroke="#548a3e" stroke-width="1.5"/>
<circle cx="479.4" cy="561.6" r="3.35" fill="#eef8d8" stroke="#548a3e" stroke-width="1.5"/>
<circle cx="486.3" cy="561.6" r="3.35" fill="#eef8d8" stroke="#548a3e" stroke-width="1.5"/>
<line x1="312.8" y1="429" x2="312.8" y2="562.35" stroke="#111" stroke-width="1.6" />
<line x1="308.6" y1="561.6" x2="510.5" y2="561.6" stroke="#111" stroke-width="1.6" />
<text transform="translate(305.2,565.06) scale(1.06,1)" font-size="9.9" text-anchor="end" fill="#333" stroke="#333" stroke-width="0.15">0</text>
<line x1="308.6" y1="540.07" x2="312.8" y2="540.07" stroke="#111" stroke-width="1.3" />
<text transform="translate(305.2,543.53) scale(1.06,1)" font-size="9.9" text-anchor="end" fill="#333" stroke="#333" stroke-width="0.15">1</text>
<line x1="308.6" y1="518.54" x2="312.8" y2="518.54" stroke="#111" stroke-width="1.3" />
<text transform="translate(305.2,522) scale(1.06,1)" font-size="9.9" text-anchor="end" fill="#333" stroke="#333" stroke-width="0.15">2</text>
<line x1="308.6" y1="497.01" x2="312.8" y2="497.01" stroke="#111" stroke-width="1.3" />
<text transform="translate(305.2,500.47) scale(1.06,1)" font-size="9.9" text-anchor="end" fill="#333" stroke="#333" stroke-width="0.15">3</text>
<line x1="308.6" y1="475.48" x2="312.8" y2="475.48" stroke="#111" stroke-width="1.3" />
<text transform="translate(305.2,478.94) scale(1.06,1)" font-size="9.9" text-anchor="end" fill="#333" stroke="#333" stroke-width="0.15">4</text>
<line x1="308.6" y1="453.95" x2="312.8" y2="453.95" stroke="#111" stroke-width="1.3" />
<text transform="translate(305.2,457.41) scale(1.06,1)" font-size="9.9" text-anchor="end" fill="#333" stroke="#333" stroke-width="0.15">5</text>
<line x1="308.6" y1="432.42" x2="312.8" y2="432.42" stroke="#111" stroke-width="1.3" />
<text transform="translate(305.2,435.88) scale(1.06,1)" font-size="9.9" text-anchor="end" fill="#333" stroke="#333" stroke-width="0.15">6</text>
<line x1="361.6" y1="561.6" x2="361.6" y2="565.1" stroke="#111" stroke-width="1.3" />
<line x1="458.6" y1="561.6" x2="458.6" y2="565.1" stroke="#111" stroke-width="1.3" />
<text x="361.6" y="578" font-size="9.5" text-anchor="middle" fill="#111" font-weight="normal" font-style="normal" stroke="#111" stroke-width="0.15">WT</text>
<text x="458.6" y="578" font-size="9.3" text-anchor="middle" fill="#111" font-weight="normal" font-style="italic" stroke="#111" stroke-width="0.15">Plaur-/-</text>
<line x1="329.1" y1="518.4" x2="394.3" y2="518.4" stroke="#111" stroke-width="1.9" />
<text transform="translate(292.5,534.8) rotate(-90)" x="0" y="0" font-size="11.2" fill="#1a1a1a" stroke="#1a1a1a" stroke-width="0.45" textLength="79" lengthAdjust="spacingAndGlyphs">Arthritis index day 42</text>
<text x="382.9" y="594.9" font-size="12.6" fill="#1a1a1a" stroke="#1a1a1a" stroke-width="0.45" textLength="48.9" lengthAdjust="spacingAndGlyphs">Bone marrow</text>
<text x="416.22" y="486.5" font-size="9" font-style="italic" fill="#222" stroke="#222" stroke-width="0.25">P</text>
<polyline points="430.1,480.3 424.6,483.3 430.1,486.3" fill="none" stroke="#222" stroke-width="1.1" stroke-linejoin="miter"/>
<text x="433.74" y="486.5" font-size="9.3" fill="#222" stroke="#222" stroke-width="0.15" letter-spacing="0.3">0.05</text>
<line x1="51.3" y1="632.6" x2="51.3" y2="767.65" stroke="#111" stroke-width="1.6" />
<line x1="47.1" y1="766.9" x2="250" y2="766.9" stroke="#111" stroke-width="1.6" />
<text transform="translate(43.7,770.36) scale(1.06,1)" font-size="9.9" text-anchor="end" fill="#333" stroke="#333" stroke-width="0.15">0</text>
<line x1="47.1" y1="723.6" x2="51.3" y2="723.6" stroke="#111" stroke-width="1.3" />
<text transform="translate(43.7,727.06) scale(1.06,1)" font-size="9.9" text-anchor="end" fill="#333" stroke="#333" stroke-width="0.15">1</text>
<line x1="47.1" y1="680.3" x2="51.3" y2="680.3" stroke="#111" stroke-width="1.3" />
<text transform="translate(43.7,683.76) scale(1.06,1)" font-size="9.9" text-anchor="end" fill="#333" stroke="#333" stroke-width="0.15">2</text>
<line x1="47.1" y1="637" x2="51.3" y2="637" stroke="#111" stroke-width="1.3" />
<text transform="translate(43.7,640.46) scale(1.06,1)" font-size="9.9" text-anchor="end" fill="#333" stroke="#333" stroke-width="0.15">3</text>
<line x1="80.41" y1="766.9" x2="80.41" y2="770.9" stroke="#111" stroke-width="1.3" />
<text transform="translate(80.41,783.3) scale(1.06,1)" font-size="9.9" text-anchor="middle" fill="#333" stroke="#333" stroke-width="0.15">25</text>
<line x1="129.17" y1="766.9" x2="129.17" y2="770.9" stroke="#111" stroke-width="1.3" />
<text transform="translate(129.17,783.3) scale(1.06,1)" font-size="9.9" text-anchor="middle" fill="#333" stroke="#333" stroke-width="0.15">30</text>
<line x1="177.93" y1="766.9" x2="177.93" y2="770.9" stroke="#111" stroke-width="1.3" />
<text transform="translate(177.93,783.3) scale(1.06,1)" font-size="9.9" text-anchor="middle" fill="#333" stroke="#333" stroke-width="0.15">35</text>
<line x1="226.69" y1="766.9" x2="226.69" y2="770.9" stroke="#111" stroke-width="1.3" />
<text transform="translate(226.69,783.3) scale(1.06,1)" font-size="9.9" text-anchor="middle" fill="#333" stroke="#333" stroke-width="0.15">40</text>
<polyline points="51.15,767 60.9,767 70.66,767 80.41,767 99.91,767 109.66,767 119.42,767 129.17,767 138.92,767 158.43,752.7 168.18,741.2 177.93,745 187.69,745.2 197.44,748.8 207.19,748.8 226.69,752.6 236.45,752.6 246.2,748.8" fill="none" stroke="#62984a" stroke-width="2.0" stroke-linejoin="miter" stroke-linecap="butt"/>
<circle cx="51.15" cy="767" r="3.3" fill="#eef8d8" stroke="#548a3e" stroke-width="1.45"/>
<circle cx="60.9" cy="767" r="3.3" fill="#eef8d8" stroke="#548a3e" stroke-width="1.45"/>
<circle cx="70.66" cy="767" r="3.3" fill="#eef8d8" stroke="#548a3e" stroke-width="1.45"/>
<circle cx="80.41" cy="767" r="3.3" fill="#eef8d8" stroke="#548a3e" stroke-width="1.45"/>
<circle cx="99.91" cy="767" r="3.3" fill="#eef8d8" stroke="#548a3e" stroke-width="1.45"/>
<circle cx="109.66" cy="767" r="3.3" fill="#eef8d8" stroke="#548a3e" stroke-width="1.45"/>
<circle cx="119.42" cy="767" r="3.3" fill="#eef8d8" stroke="#548a3e" stroke-width="1.45"/>
<circle cx="129.17" cy="767" r="3.3" fill="#eef8d8" stroke="#548a3e" stroke-width="1.45"/>
<circle cx="138.92" cy="767" r="3.3" fill="#eef8d8" stroke="#548a3e" stroke-width="1.45"/>
<circle cx="158.43" cy="752.7" r="3.3" fill="#eef8d8" stroke="#548a3e" stroke-width="1.45"/>
<circle cx="168.18" cy="741.2" r="3.3" fill="#eef8d8" stroke="#548a3e" stroke-width="1.45"/>
<circle cx="177.93" cy="745" r="3.3" fill="#eef8d8" stroke="#548a3e" stroke-width="1.45"/>
<circle cx="187.69" cy="745.2" r="3.3" fill="#eef8d8" stroke="#548a3e" stroke-width="1.45"/>
<circle cx="197.44" cy="748.8" r="3.3" fill="#eef8d8" stroke="#548a3e" stroke-width="1.45"/>
<circle cx="207.19" cy="748.8" r="3.3" fill="#eef8d8" stroke="#548a3e" stroke-width="1.45"/>
<circle cx="226.69" cy="752.6" r="3.3" fill="#eef8d8" stroke="#548a3e" stroke-width="1.45"/>
<circle cx="236.45" cy="752.6" r="3.3" fill="#eef8d8" stroke="#548a3e" stroke-width="1.45"/>
<circle cx="246.2" cy="748.8" r="3.3" fill="#eef8d8" stroke="#548a3e" stroke-width="1.45"/>
<polyline points="51.15,766.9 60.9,766.9 70.66,763.3 80.41,763.3 99.91,763.3 109.66,759 119.42,759 129.17,759 138.92,751.2 158.43,715.6 168.18,699.6 177.93,696.4 187.69,692.2 197.44,683.9 207.19,687.7 226.69,696.3 236.45,696.3 246.2,688" fill="none" stroke="#7e0a25" stroke-width="2.3" stroke-linejoin="miter" stroke-linecap="butt"/>
<circle cx="51.15" cy="766.9" r="3.1" fill="#b2072f" stroke="#700520" stroke-width="1.0"/>
<circle cx="60.9" cy="766.9" r="3.1" fill="#b2072f" stroke="#700520" stroke-width="1.0"/>
<circle cx="70.66" cy="763.3" r="3.1" fill="#b2072f" stroke="#700520" stroke-width="1.0"/>
<circle cx="80.41" cy="763.3" r="3.1" fill="#b2072f" stroke="#700520" stroke-width="1.0"/>
<circle cx="99.91" cy="763.3" r="3.1" fill="#b2072f" stroke="#700520" stroke-width="1.0"/>
<circle cx="109.66" cy="759" r="3.1" fill="#b2072f" stroke="#700520" stroke-width="1.0"/>
<circle cx="119.42" cy="759" r="3.1" fill="#b2072f" stroke="#700520" stroke-width="1.0"/>
<circle cx="129.17" cy="759" r="3.1" fill="#b2072f" stroke="#700520" stroke-width="1.0"/>
<circle cx="138.92" cy="751.2" r="3.1" fill="#b2072f" stroke="#700520" stroke-width="1.0"/>
<circle cx="158.43" cy="715.6" r="3.1" fill="#b2072f" stroke="#700520" stroke-width="1.0"/>
<circle cx="168.18" cy="699.6" r="3.1" fill="#b2072f" stroke="#700520" stroke-width="1.0"/>
<circle cx="177.93" cy="696.4" r="3.1" fill="#b2072f" stroke="#700520" stroke-width="1.0"/>
<circle cx="187.69" cy="692.2" r="3.1" fill="#b2072f" stroke="#700520" stroke-width="1.0"/>
<circle cx="197.44" cy="683.9" r="3.1" fill="#b2072f" stroke="#700520" stroke-width="1.0"/>
<circle cx="207.19" cy="687.7" r="3.1" fill="#b2072f" stroke="#700520" stroke-width="1.0"/>
<circle cx="226.69" cy="696.3" r="3.1" fill="#b2072f" stroke="#700520" stroke-width="1.0"/>
<circle cx="236.45" cy="696.3" r="3.1" fill="#b2072f" stroke="#700520" stroke-width="1.0"/>
<circle cx="246.2" cy="688" r="3.1" fill="#b2072f" stroke="#700520" stroke-width="1.0"/>
<polygon points="158.43,701.6 158.96,702.87 160.33,702.98 159.28,703.88 159.6,705.22 158.43,704.5 157.25,705.22 157.57,703.88 156.53,702.98 157.9,702.87" fill="#111" stroke="#111" stroke-width="0.5" stroke-linejoin="round"/>
<polygon points="168.18,683.6 168.71,684.87 170.08,684.98 169.04,685.88 169.36,687.22 168.18,686.5 167,687.22 167.32,685.88 166.28,684.98 167.65,684.87" fill="#111" stroke="#111" stroke-width="0.5" stroke-linejoin="round"/>
<polygon points="177.93,680.3 178.46,681.57 179.83,681.68 178.79,682.58 179.11,683.92 177.93,683.2 176.76,683.92 177.08,682.58 176.03,681.68 177.4,681.57" fill="#111" stroke="#111" stroke-width="0.5" stroke-linejoin="round"/>
<polygon points="187.69,676.3 188.21,677.57 189.59,677.68 188.54,678.58 188.86,679.92 187.69,679.2 186.51,679.92 186.83,678.58 185.78,677.68 187.16,677.57" fill="#111" stroke="#111" stroke-width="0.5" stroke-linejoin="round"/>
<polygon points="197.44,668.3 197.97,669.57 199.34,669.68 198.29,670.58 198.61,671.92 197.44,671.2 196.26,671.92 196.58,670.58 195.54,669.68 196.91,669.57" fill="#111" stroke="#111" stroke-width="0.5" stroke-linejoin="round"/>
<polygon points="207.19,672.5 207.72,673.77 209.09,673.88 208.05,674.78 208.37,676.12 207.19,675.4 206.01,676.12 206.33,674.78 205.29,673.88 206.66,673.77" fill="#111" stroke="#111" stroke-width="0.5" stroke-linejoin="round"/>
<polygon points="226.69,682.1 227.22,683.37 228.6,683.48 227.55,684.38 227.87,685.72 226.69,685 225.52,685.72 225.84,684.38 224.79,683.48 226.17,683.37" fill="#111" stroke="#111" stroke-width="0.5" stroke-linejoin="round"/>
<polygon points="236.45,682.1 236.98,683.37 238.35,683.48 237.3,684.38 237.62,685.72 236.45,685 235.27,685.72 235.59,684.38 234.55,683.48 235.92,683.37" fill="#111" stroke="#111" stroke-width="0.5" stroke-linejoin="round"/>
<polygon points="246.2,674.2 246.73,675.47 248.1,675.58 247.06,676.48 247.38,677.82 246.2,677.1 245.02,677.82 245.34,676.48 244.3,675.58 245.67,675.47" fill="#111" stroke="#111" stroke-width="0.5" stroke-linejoin="round"/>
<text transform="translate(31,737) rotate(-90)" x="0" y="0" font-size="11.2" fill="#1a1a1a" stroke="#1a1a1a" stroke-width="0.45" textLength="73" lengthAdjust="spacingAndGlyphs">Mean severity index</text>
<text x="137.7" y="800" font-size="12.6" fill="#1a1a1a" stroke="#1a1a1a" stroke-width="0.45" textLength="17.2" lengthAdjust="spacingAndGlyphs">Days</text>
<text x="63.5" y="649.6" font-size="9.2" text-anchor="start" fill="#222" font-weight="normal" font-style="normal" stroke="#222" stroke-width="0.15">Bone Marrow</text>
<line x1="63.5" y1="650.8" x2="117.6" y2="650.8" stroke="#444" stroke-width="0.8" />
<line x1="65.2" y1="659.3" x2="80.2" y2="659.3" stroke="#7e0a25" stroke-width="2.0" />
<circle cx="72.7" cy="659.3" r="3.3" fill="#b2072f" stroke="#700520" stroke-width="1.0"/>
<text x="84.2" y="662.6" font-size="9.3" text-anchor="start" fill="#111" font-weight="normal" font-style="normal" stroke="#111" stroke-width="0.2">WT</text>
<line x1="65.2" y1="673.5" x2="80.2" y2="673.5" stroke="#62984a" stroke-width="1.8" />
<circle cx="72.7" cy="673.5" r="3.1" fill="#eef8d8" stroke="#548a3e" stroke-width="1.5"/>
<text x="84.2" y="676.8" font-size="9.1" text-anchor="start" fill="#111" font-weight="normal" font-style="italic" stroke="#111" stroke-width="0.2">Plaur-/-</text>
<line x1="312.7" y1="633.9" x2="312.7" y2="767.45" stroke="#111" stroke-width="1.6" />
<line x1="308.5" y1="766.7" x2="510.4" y2="766.7" stroke="#111" stroke-width="1.6" />
<text transform="translate(305.1,770.16) scale(1.06,1)" font-size="9.9" text-anchor="end" fill="#333" stroke="#333" stroke-width="0.15">0.0</text>
<line x1="308.5" y1="734.45" x2="312.7" y2="734.45" stroke="#111" stroke-width="1.3" />
<text transform="translate(305.1,737.91) scale(1.06,1)" font-size="9.9" text-anchor="end" fill="#333" stroke="#333" stroke-width="0.15">0.5</text>
<line x1="308.5" y1="702.2" x2="312.7" y2="702.2" stroke="#111" stroke-width="1.3" />
<text transform="translate(305.1,705.66) scale(1.06,1)" font-size="9.9" text-anchor="end" fill="#333" stroke="#333" stroke-width="0.15">1.0</text>
<line x1="308.5" y1="669.95" x2="312.7" y2="669.95" stroke="#111" stroke-width="1.3" />
<text transform="translate(305.1,673.41) scale(1.06,1)" font-size="9.9" text-anchor="end" fill="#333" stroke="#333" stroke-width="0.15">1.5</text>
<line x1="308.5" y1="637.7" x2="312.7" y2="637.7" stroke="#111" stroke-width="1.3" />
<text transform="translate(305.1,641.16) scale(1.06,1)" font-size="9.9" text-anchor="end" fill="#333" stroke="#333" stroke-width="0.15">2.0</text>
<line x1="341.47" y1="766.7" x2="341.47" y2="770.7" stroke="#111" stroke-width="1.3" />
<text transform="translate(341.47,783.1) scale(1.06,1)" font-size="9.9" text-anchor="middle" fill="#333" stroke="#333" stroke-width="0.15">25</text>
<line x1="389.92" y1="766.7" x2="389.92" y2="770.7" stroke="#111" stroke-width="1.3" />
<text transform="translate(389.92,783.1) scale(1.06,1)" font-size="9.9" text-anchor="middle" fill="#333" stroke="#333" stroke-width="0.15">30</text>
<line x1="438.37" y1="766.7" x2="438.37" y2="770.7" stroke="#111" stroke-width="1.3" />
<text transform="translate(438.37,783.1) scale(1.06,1)" font-size="9.9" text-anchor="middle" fill="#333" stroke="#333" stroke-width="0.15">35</text>
<line x1="486.82" y1="766.7" x2="486.82" y2="770.7" stroke="#111" stroke-width="1.3" />
<text transform="translate(486.82,783.1) scale(1.06,1)" font-size="9.9" text-anchor="middle" fill="#333" stroke="#333" stroke-width="0.15">40</text>
<polyline points="312.4,767 322.09,767 331.78,767 341.47,767 360.85,767 370.54,767 380.23,767 389.92,767 399.61,766.5 418.99,761.1 428.68,761.1 438.37,761.1 448.06,761.1 457.75,756.2 467.44,750.7 486.82,750.7 496.51,750.7 506.2,756.2" fill="none" stroke="#62984a" stroke-width="2.0" stroke-linejoin="miter" stroke-linecap="butt"/>
<circle cx="312.4" cy="767" r="3.3" fill="#eef8d8" stroke="#548a3e" stroke-width="1.45"/>
<circle cx="322.09" cy="767" r="3.3" fill="#eef8d8" stroke="#548a3e" stroke-width="1.45"/>
<circle cx="331.78" cy="767" r="3.3" fill="#eef8d8" stroke="#548a3e" stroke-width="1.45"/>
<circle cx="341.47" cy="767" r="3.3" fill="#eef8d8" stroke="#548a3e" stroke-width="1.45"/>
<circle cx="360.85" cy="767" r="3.3" fill="#eef8d8" stroke="#548a3e" stroke-width="1.45"/>
<circle cx="370.54" cy="767" r="3.3" fill="#eef8d8" stroke="#548a3e" stroke-width="1.45"/>
<circle cx="380.23" cy="767" r="3.3" fill="#eef8d8" stroke="#548a3e" stroke-width="1.45"/>
<circle cx="389.92" cy="767" r="3.3" fill="#eef8d8" stroke="#548a3e" stroke-width="1.45"/>
<circle cx="399.61" cy="766.5" r="3.3" fill="#eef8d8" stroke="#548a3e" stroke-width="1.45"/>
<circle cx="418.99" cy="761.1" r="3.3" fill="#eef8d8" stroke="#548a3e" stroke-width="1.45"/>
<circle cx="428.68" cy="761.1" r="3.3" fill="#eef8d8" stroke="#548a3e" stroke-width="1.45"/>
<circle cx="438.37" cy="761.1" r="3.3" fill="#eef8d8" stroke="#548a3e" stroke-width="1.45"/>
<circle cx="448.06" cy="761.1" r="3.3" fill="#eef8d8" stroke="#548a3e" stroke-width="1.45"/>
<circle cx="457.75" cy="756.2" r="3.3" fill="#eef8d8" stroke="#548a3e" stroke-width="1.45"/>
<circle cx="467.44" cy="750.7" r="3.3" fill="#eef8d8" stroke="#548a3e" stroke-width="1.45"/>
<circle cx="486.82" cy="750.7" r="3.3" fill="#eef8d8" stroke="#548a3e" stroke-width="1.45"/>
<circle cx="496.51" cy="750.7" r="3.3" fill="#eef8d8" stroke="#548a3e" stroke-width="1.45"/>
<circle cx="506.2" cy="756.2" r="3.3" fill="#eef8d8" stroke="#548a3e" stroke-width="1.45"/>
<polyline points="312.4,767 322.09,767 331.78,767 341.47,767 360.85,767 370.54,767 380.23,761.3 389.92,743.7 399.61,737.3 418.99,731.5 428.68,725.8 438.37,720 448.06,725.8 457.75,725.8 467.44,707.8 486.82,707.8 496.51,707.8 506.2,720" fill="none" stroke="#7e0a25" stroke-width="2.3" stroke-linejoin="miter" stroke-linecap="butt"/>
<circle cx="312.4" cy="767" r="3.1" fill="#b2072f" stroke="#700520" stroke-width="1.0"/>
<circle cx="322.09" cy="767" r="3.1" fill="#b2072f" stroke="#700520" stroke-width="1.0"/>
<circle cx="331.78" cy="767" r="3.1" fill="#b2072f" stroke="#700520" stroke-width="1.0"/>
<circle cx="341.47" cy="767" r="3.1" fill="#b2072f" stroke="#700520" stroke-width="1.0"/>
<circle cx="360.85" cy="767" r="3.1" fill="#b2072f" stroke="#700520" stroke-width="1.0"/>
<circle cx="370.54" cy="767" r="3.1" fill="#b2072f" stroke="#700520" stroke-width="1.0"/>
<circle cx="380.23" cy="761.3" r="3.1" fill="#b2072f" stroke="#700520" stroke-width="1.0"/>
<circle cx="389.92" cy="743.7" r="3.1" fill="#b2072f" stroke="#700520" stroke-width="1.0"/>
<circle cx="399.61" cy="737.3" r="3.1" fill="#b2072f" stroke="#700520" stroke-width="1.0"/>
<circle cx="418.99" cy="731.5" r="3.1" fill="#b2072f" stroke="#700520" stroke-width="1.0"/>
<circle cx="428.68" cy="725.8" r="3.1" fill="#b2072f" stroke="#700520" stroke-width="1.0"/>
<circle cx="438.37" cy="720" r="3.1" fill="#b2072f" stroke="#700520" stroke-width="1.0"/>
<circle cx="448.06" cy="725.8" r="3.1" fill="#b2072f" stroke="#700520" stroke-width="1.0"/>
<circle cx="457.75" cy="725.8" r="3.1" fill="#b2072f" stroke="#700520" stroke-width="1.0"/>
<circle cx="467.44" cy="707.8" r="3.1" fill="#b2072f" stroke="#700520" stroke-width="1.0"/>
<circle cx="486.82" cy="707.8" r="3.1" fill="#b2072f" stroke="#700520" stroke-width="1.0"/>
<circle cx="496.51" cy="707.8" r="3.1" fill="#b2072f" stroke="#700520" stroke-width="1.0"/>
<circle cx="506.2" cy="720" r="3.1" fill="#b2072f" stroke="#700520" stroke-width="1.0"/>
<text transform="translate(284.1,737.2) rotate(-90)" x="0" y="0" font-size="11.2" fill="#1a1a1a" stroke="#1a1a1a" stroke-width="0.45" textLength="73.2" lengthAdjust="spacingAndGlyphs">Mean severity index</text>
<text x="398.9" y="800" font-size="12.6" fill="#1a1a1a" stroke="#1a1a1a" stroke-width="0.45" textLength="17.4" lengthAdjust="spacingAndGlyphs">Days</text>
<text x="324.9" y="651.2" font-size="9.2" text-anchor="start" fill="#222" font-weight="normal" font-style="normal" stroke="#222" stroke-width="0.15">Bone Marrow</text>
<line x1="324.9" y1="652.4" x2="379" y2="652.4" stroke="#444" stroke-width="0.8" />
<line x1="326.7" y1="661.9" x2="341.7" y2="661.9" stroke="#7e0a25" stroke-width="2.0" />
<circle cx="334.2" cy="661.9" r="3.3" fill="#b2072f" stroke="#700520" stroke-width="1.0"/>
<text x="345.5" y="665.2" font-size="9.3" text-anchor="start" fill="#111" font-weight="normal" font-style="normal" stroke="#111" stroke-width="0.2">WT</text>
<line x1="326.7" y1="675.8" x2="341.7" y2="675.8" stroke="#62984a" stroke-width="1.8" />
<circle cx="334.2" cy="675.8" r="3.1" fill="#eef8d8" stroke="#548a3e" stroke-width="1.5"/>
<text x="345.5" y="679.1" font-size="9.1" text-anchor="start" fill="#111" font-weight="normal" font-style="italic" stroke="#111" stroke-width="0.2">Plaur-/-</text>
<rect x="0.9" y="0.9" width="518.2" height="810.2" fill="none" stroke="#000" stroke-width="1.9"/>
</svg>
</body></html>
